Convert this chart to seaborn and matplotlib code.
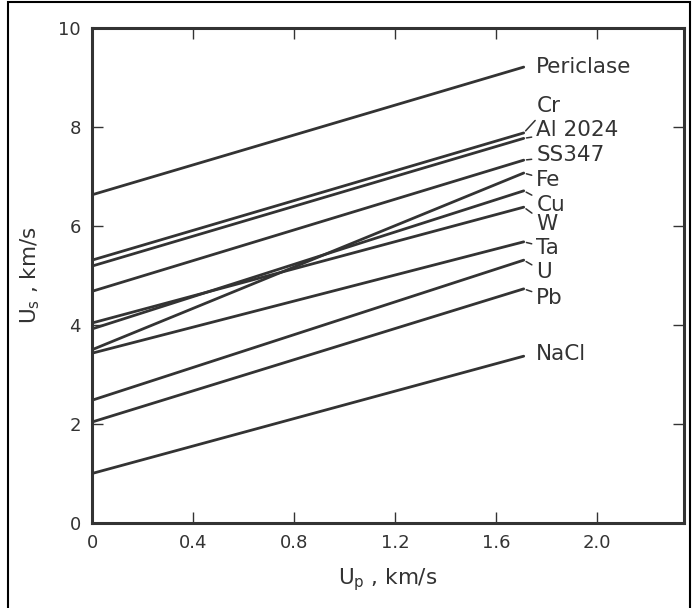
import matplotlib
matplotlib.use("Agg")
import matplotlib.pyplot as plt
import seaborn as sns
import pandas as pd

# ---- data ----
materials = ["Periclase", "Cr", "Al 2024", "SS347", "Fe", "Cu", "W", "Ta", "U", "Pb", "NaCl"]
us_at_zero = [6.63, 5.31, 5.19, 4.68, 3.50, 3.92, 4.04, 3.43, 2.48, 2.04, 1.00]
us_at_end = [9.21, 7.88, 7.77, 7.33, 7.07, 6.71, 6.38, 5.68, 5.31, 4.73, 3.37]
up_range = [0.0, 1.71]
x_ticks = [0, 0.4, 0.8, 1.2, 1.6, 2.0]
x_ticklabels = ["0", "0.4", "0.8", "1.2", "1.6", "2.0"]
y_ticks = [0, 2, 4, 6, 8, 10]
y_ticklabels = ["0", "2", "4", "6", "8", "10"]

rows = []
for m, a, b in zip(materials, us_at_zero, us_at_end):
    rows.append({"material": m, "up": up_range[0], "us": a})
    rows.append({"material": m, "up": up_range[1], "us": b})
df = pd.DataFrame(rows)

sns.set_theme(style="ticks")
plt.rcParams["font.family"] = ["DejaVu Sans"]

ink = "#333333"
fig = plt.figure(figsize=(6.94, 6.08), dpi=100)
ax = fig.add_axes([0.1326, 0.1398, 0.8530, 0.8142])

sns.lineplot(data=df, x="up", y="us", hue="material", units="material", estimator=None,
             palette=[ink] * len(materials), legend=False, linewidth=2.0, ax=ax)

ax.set_xlim(0, 2.345)
ax.set_ylim(0, 10)
ax.set_xticks(x_ticks)
ax.set_xticklabels(x_ticklabels)
ax.set_yticks(y_ticks)
ax.set_yticklabels(y_ticklabels)
ax.tick_params(direction="in", length=8, width=1.0, color=ink, labelsize=13,
               labelcolor=ink, top=True, right=True, pad=8)
for s in ax.spines.values():
    s.set_linewidth(2.2)
    s.set_color(ink)

ax.set_xlabel(r"U$_\mathregular{p}$ , km/s", fontsize=15.5, color=ink, labelpad=10)
ax.set_ylabel(r"U$_\mathregular{s}$ , km/s", fontsize=15.5, color=ink, labelpad=12)

# label placement (layout, in data units)
label_x = 1.76
label_y = {"Periclase": 9.21, "Cr": 8.42, "Al 2024": 7.94, "SS347": 7.43, "Fe": 6.93,
           "Cu": 6.42, "W": 6.04, "Ta": 5.56, "U": 5.07, "Pb": 4.55, "NaCl": 3.41}
leader = {"Cr", "Al 2024", "SS347", "Fe", "Cu", "W", "Ta", "U", "Pb"}
for m, b in zip(materials, us_at_end):
    ly = label_y[m]
    if m in leader:
        ax.annotate(m, xy=(up_range[1], b), xytext=(label_x, ly), fontsize=15.5, color=ink,
                    va="center", ha="left",
                    arrowprops=dict(arrowstyle="-", color=ink, lw=1.1, shrinkA=1, shrinkB=2))
    else:
        ax.text(label_x, ly, m, fontsize=15.5, color=ink, va="center", ha="left")

# outer frame of the figure
fig.patches.append(plt.Rectangle((8 / 694, -0.01), (690 - 8) / 694, 1 - 2 / 608 + 0.01,
                                 transform=fig.transFigure, fill=False, lw=1.5,
                                 edgecolor="black"))

fig.savefig("out.png", dpi=100)
